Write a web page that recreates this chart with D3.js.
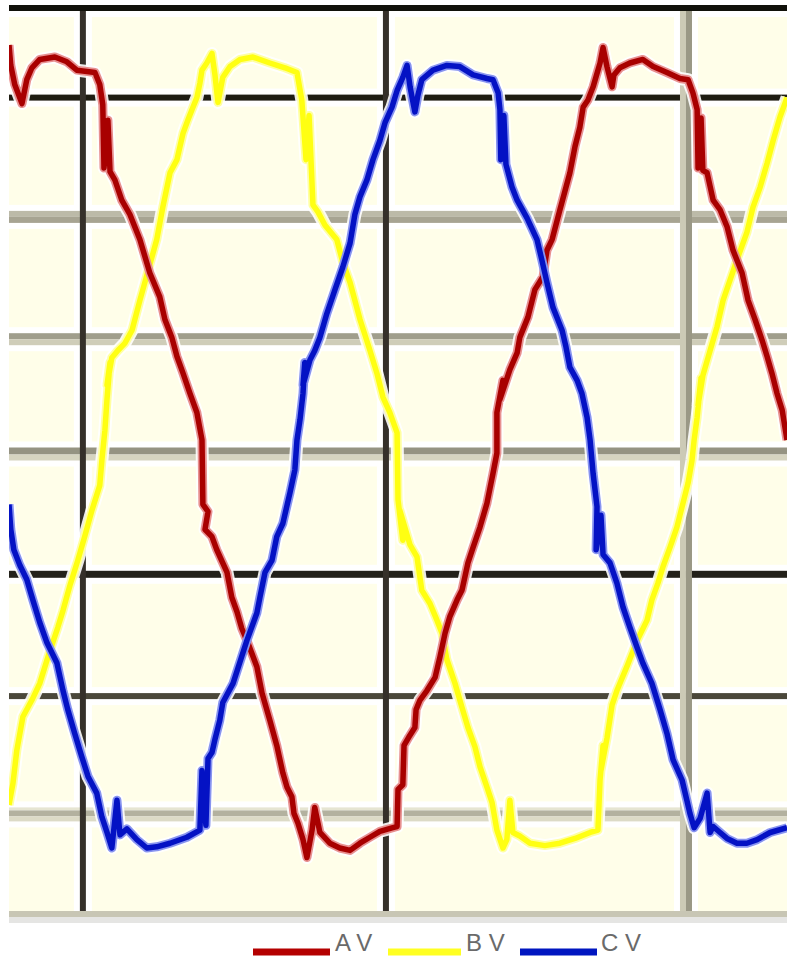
<!DOCTYPE html>
<html>
<head>
<meta charset="utf-8">
<script src="https://cdn.jsdelivr.net/npm/d3@7"></script>
<style>
    body { margin: 0; background: #ffffff; }
    svg { display: block; }
</style>
</head>
<body>
<svg id="chart" width="787" height="957"></svg>
<script>
    // Three phase voltages, [time ms, volts]
    var seriesNames = ["A V", "B V", "C V"];

    var phaseA = [[-2.45,344],[-2.39,327],[-2.26,311],[-2.02,295],[-1.86,315],[-1.69,325],[-1.43,332],[-0.93,334],[-0.53,330],[-0.20,323],[0.40,321],[0.56,311],[0.66,294],[0.70,241],[0.83,281],[0.90,238],[1.06,231],[1.29,214],[1.56,202],[1.89,181],[2.22,153],[2.55,133],[2.72,114],[2.95,99],[3.12,83],[3.32,69],[3.55,52],[3.78,36],[3.95,13],[3.98,-41],[4.15,-47],[4.05,-62],[4.28,-68],[4.44,-79],[4.78,-98],[4.94,-119],[5.11,-131],[5.27,-145],[5.47,-157],[5.77,-177],[5.94,-199],[6.20,-222],[6.43,-243],[6.63,-266],[6.77,-278],[6.93,-286],[7.00,-300],[7.13,-308],[7.30,-322],[7.43,-337],[7.60,-314],[7.69,-295],[7.86,-316],[8.19,-325],[8.52,-329],[8.86,-331],[9.19,-325],[9.52,-320],[9.85,-315],[10.28,-312],[10.42,-311],[10.45,-280],[10.61,-276],[10.65,-243],[10.81,-236],[11.01,-228],[11.05,-213],[11.18,-205],[11.41,-197],[11.68,-186],[11.84,-169],[12.01,-149],[12.17,-135],[12.41,-121],[12.57,-113],[12.77,-90],[12.94,-77],[13.17,-60],[13.40,-40],[13.60,-15],[13.73,2],[13.73,36],[13.93,63],[13.83,47],[14.16,72],[14.40,86],[14.49,99],[14.76,116],[14.99,139],[15.26,150],[15.39,172],[15.56,181],[15.82,206],[16.15,237],[16.32,259],[16.48,275],[16.59,292],[16.75,298],[16.92,309],[17.15,329],[17.25,342],[17.38,326],[17.55,309],[17.61,319],[17.81,325],[18.14,329],[18.57,332],[18.91,326],[19.37,321],[19.80,316],[20.07,315],[20.23,304],[20.37,290],[20.40,241],[20.50,283],[20.56,239],[20.70,237],[20.90,214],[21.13,206],[21.36,192],[21.56,172],[21.86,153],[22.06,130],[22.29,114],[22.52,97],[22.69,83],[22.85,69],[23.02,52],[23.19,38],[23.35,13]];

    var phaseB = [[-2.45,-293],[-2.32,-275],[-2.19,-247],[-1.99,-219],[-1.69,-205],[-1.43,-191],[-1.16,-169],[-0.83,-144],[-0.66,-130],[-0.43,-109],[-0.17,-88],[0.07,-67],[0.30,-46],[0.56,-25],[0.63,-4],[0.73,21],[0.80,47],[0.90,78],[0.80,59],[0.96,82],[1.16,88],[1.39,94],[1.63,105],[1.89,130],[2.22,160],[2.45,181],[2.65,208],[2.89,237],[3.12,248],[3.32,270],[3.48,281],[3.65,292],[3.78,300],[3.88,312],[3.95,323],[4.11,329],[4.28,337],[4.38,319],[4.48,296],[4.64,317],[4.88,326],[5.21,332],[5.64,334],[6.20,329],[6.70,325],[7.10,321],[7.26,298],[7.40,248],[7.50,285],[7.63,210],[7.80,204],[8.03,193],[8.42,181],[8.62,162],[8.86,145],[9.19,114],[9.52,88],[9.75,69],[9.95,49],[10.18,36],[10.42,19],[10.45,-37],[10.61,-71],[10.51,-46],[10.85,-75],[11.08,-85],[11.24,-113],[11.51,-124],[11.74,-138],[11.91,-149],[12.07,-171],[12.34,-191],[12.57,-211],[12.77,-228],[13.00,-244],[13.17,-261],[13.40,-278],[13.57,-291],[13.73,-314],[13.93,-329],[14.06,-322],[14.16,-289],[14.26,-316],[14.49,-319],[14.83,-325],[15.32,-327],[15.82,-325],[16.32,-321],[16.82,-316],[17.08,-314],[17.15,-272],[17.25,-243],[17.18,-264],[17.38,-237],[17.55,-209],[17.71,-197],[18.04,-177],[18.38,-155],[18.71,-138],[18.87,-121],[19.07,-107],[19.24,-93],[19.47,-77],[19.70,-60],[19.87,-43],[20.07,-23],[20.20,-4],[20.27,13],[20.37,32],[20.50,65],[20.40,42],[20.56,67],[20.80,88],[21.03,108],[21.23,130],[21.69,164],[22.02,187],[22.22,208],[22.46,225],[22.69,245],[22.89,264],[23.12,284],[23.35,300]];

    var phaseC = [[-2.45,-41],[-2.39,-62],[-2.29,-79],[-2.09,-92],[-1.86,-104],[-1.66,-121],[-1.43,-140],[-1.19,-157],[-0.86,-174],[-0.66,-197],[-0.50,-213],[-0.27,-233],[-0.03,-253],[0.17,-269],[0.46,-283],[0.63,-303],[0.80,-316],[0.96,-329],[1.13,-289],[1.23,-318],[1.46,-313],[1.79,-322],[2.12,-329],[2.45,-328],[2.89,-325],[3.45,-320],[3.88,-314],[3.95,-264],[4.08,-310],[4.15,-254],[4.28,-249],[4.38,-238],[4.54,-222],[4.64,-207],[4.98,-191],[5.44,-155],[5.77,-132],[5.87,-119],[6.04,-98],[6.27,-88],[6.43,-68],[6.63,-57],[6.87,-31],[7.03,-12],[7.10,13],[7.20,30],[7.30,52],[7.36,78],[7.30,59],[7.53,80],[7.69,88],[7.86,99],[8.09,119],[8.36,139],[8.62,158],[8.86,178],[9.02,202],[9.19,217],[9.42,231],[9.62,248],[9.85,264],[10.02,279],[10.25,292],[10.42,306],[10.61,317],[10.75,327],[10.85,309],[11.01,288],[11.11,302],[11.24,315],[11.61,323],[12.07,327],[12.50,326],[12.94,319],[13.40,316],[13.60,315],[13.77,304],[13.83,290],[13.86,248],[13.96,285],[14.03,244],[14.23,225],[14.40,214],[14.73,199],[15.06,181],[15.22,164],[15.39,145],[15.59,124],[15.89,105],[16.02,91],[16.15,74],[16.39,63],[16.55,52],[16.72,32],[16.82,13],[16.92,-15],[17.05,-43],[17.02,-79],[17.18,-50],[17.25,-83],[17.48,-90],[17.71,-107],[17.91,-127],[18.14,-144],[18.38,-161],[18.57,-174],[18.87,-191],[19.14,-213],[19.37,-233],[19.57,-255],[19.87,-272],[20.03,-289],[20.13,-300],[20.27,-312],[20.47,-304],[20.70,-283],[20.80,-316],[20.90,-311],[21.13,-316],[21.36,-321],[21.69,-325],[22.02,-325],[22.36,-322],[22.79,-316],[23.35,-312]];

    var voltTicks = [300, 200, 100, 0, -100, -200, -300];
    var timeTicks = [0, 10, 20];

    (function () {
        var svg = d3.select("#chart"),
            plotLeft = 9, plotRight = 787, plotTop = 5, plotBottom = 917;

        var x = d3.scaleLinear().domain([-2.45, 23.35]).range([plotLeft, plotRight]),
            y = d3.scaleLinear().domain([300, -300]).range([97.6, 813.4]);

        // band offsets / heights / colours of each grid line (the source has two tone lines)
        var hBands = {
            "300": [[-3, 6, "#1e1c12"]],
            "200": [[-6, 6, "#bcbaa8"], [0, 6, "#a7a492"]],
            "100": [[-3, 6, "#a09e8c"], [3, 6, "#cfcdb9"]],
            "0": [[-8, 7, "#959382"], [-1, 6, "#d6d4c0"]],
            "-100": [[-4, 7, "#23211a"]],
            "-200": [[-1, 6, "#4a473a"]],
            "-300": [[-6, 3, "#e6e5d2"], [-3, 6, "#b3b19f"], [3, 5, "#dcdac6"]]
        };
        var vBands = {
            "0": [[-3, 6, "#35302a"]],
            "10": [[-1.5, 6, "#35302a"]],
            "20": [[-6, 6, "#cccab6"], [0, 6, "#9a9886"]]
        };

        // Background
        svg.append("rect")
            .attr("x", plotLeft).attr("y", plotTop)
            .attr("width", plotRight - plotLeft).attr("height", plotBottom - plotTop)
            .attr("fill", "#fffee9");
        svg.append("rect")
            .attr("x", plotLeft).attr("y", plotBottom)
            .attr("width", plotRight - plotLeft).attr("height", 6)
            .attr("fill", "#e5e5e3");

        var grid = svg.append("g");

        function extent(bands) {
            var lo = d3.min(bands, function (b) { return b[0]; }),
                hi = d3.max(bands, function (b) { return b[0] + b[1]; });
            return [lo, hi];
        }

        // Halos first
        voltTicks.forEach(function (v) {
            var e = extent(hBands[String(v)]);
            grid.append("rect")
                .attr("x", plotLeft).attr("width", plotRight - plotLeft)
                .attr("y", y(v) + e[0] - 6).attr("height", e[1] - e[0] + 12)
                .attr("fill", "#ffffff");
        });
        timeTicks.forEach(function (t) {
            var e = extent(vBands[String(t)]);
            grid.append("rect")
                .attr("y", plotTop).attr("height", plotBottom - plotTop)
                .attr("x", x(t) + e[0] - 6).attr("width", e[1] - e[0] + 12)
                .attr("fill", "#ffffff");
        });
        grid.append("rect")
            .attr("x", plotLeft).attr("width", plotRight - plotLeft)
            .attr("y", plotTop + 6).attr("height", 6)
            .attr("fill", "#ffffff");

        // Lines
        voltTicks.forEach(function (v) {
            hBands[String(v)].forEach(function (b) {
                grid.append("rect")
                    .attr("x", plotLeft).attr("width", plotRight - plotLeft)
                    .attr("y", y(v) + b[0]).attr("height", b[1])
                    .attr("fill", b[2]);
            });
        });
        timeTicks.forEach(function (t) {
            vBands[String(t)].forEach(function (b) {
                grid.append("rect")
                    .attr("y", plotTop).attr("height", plotBottom - plotTop)
                    .attr("x", x(t) + b[0]).attr("width", b[1])
                    .attr("fill", b[2]);
            });
        });
        grid.append("rect")
            .attr("x", plotLeft).attr("width", plotRight - plotLeft)
            .attr("y", plotTop).attr("height", 6)
            .attr("fill", "#11110a");
        grid.append("rect")
            .attr("x", plotLeft).attr("width", plotRight - plotLeft)
            .attr("y", plotBottom - 6).attr("height", 6)
            .attr("fill", "#c8c6b4");

        // Waveforms
        svg.append("clipPath").attr("id", "plotClip")
            .append("rect")
            .attr("x", plotLeft).attr("y", plotTop + 6)
            .attr("width", plotRight - plotLeft).attr("height", plotBottom - plotTop - 12);

        var series = [
            { name: seriesNames[1], data: phaseB, core: "#ffff12", glow: "#ffffa0", legend: "#ffff22" },
            { name: seriesNames[0], data: phaseA, core: "#a80000", glow: "#e89090", legend: "#b40000" },
            { name: seriesNames[2], data: phaseC, core: "#0412c4", glow: "#8894f0", legend: "#0016c0" }
        ];

        var line = d3.line()
            .x(function (d) { return x(d[0]); })
            .y(function (d) { return y(d[1]); });

        var waves = svg.append("g").attr("clip-path", "url(#plotClip)");

        series.forEach(function (s) {
            waves.append("path")
                .attr("d", line(s.data))
                .attr("fill", "none")
                .attr("stroke", "#ffffff")
                .attr("stroke-opacity", 0.9)
                .attr("stroke-width", 13)
                .attr("stroke-linejoin", "round");
        });
        series.forEach(function (s) {
            waves.append("path")
                .attr("d", line(s.data))
                .attr("fill", "none")
                .attr("stroke", s.glow)
                .attr("stroke-width", 9)
                .attr("stroke-linejoin", "round");
            waves.append("path")
                .attr("d", line(s.data))
                .attr("fill", "none")
                .attr("stroke", s.core)
                .attr("stroke-width", 5.5)
                .attr("stroke-linejoin", "round");
        });

        // Legend (sits on the lower edge, as in the source)
        var legendItems = [
            { s: series[1], x0: 253, x1: 330, tx: 335 },
            { s: series[0], x0: 388, x1: 461, tx: 466 },
            { s: series[2], x0: 520, x1: 597, tx: 601 }
        ];
        var legend = svg.append("g");
        legendItems.forEach(function (item) {
            legend.append("line")
                .attr("x1", item.x0).attr("x2", item.x1)
                .attr("y1", 952).attr("y2", 952)
                .attr("stroke", item.s.legend)
                .attr("stroke-width", 7);
            legend.append("text")
                .attr("x", item.tx).attr("y", 951)
                .attr("font-family", "Liberation Sans, Arial, sans-serif")
                .attr("font-size", 24)
                .attr("fill", "#6a6a6a")
                .text(item.s.name);
        });
    })();
</script>
</body>
</html>
